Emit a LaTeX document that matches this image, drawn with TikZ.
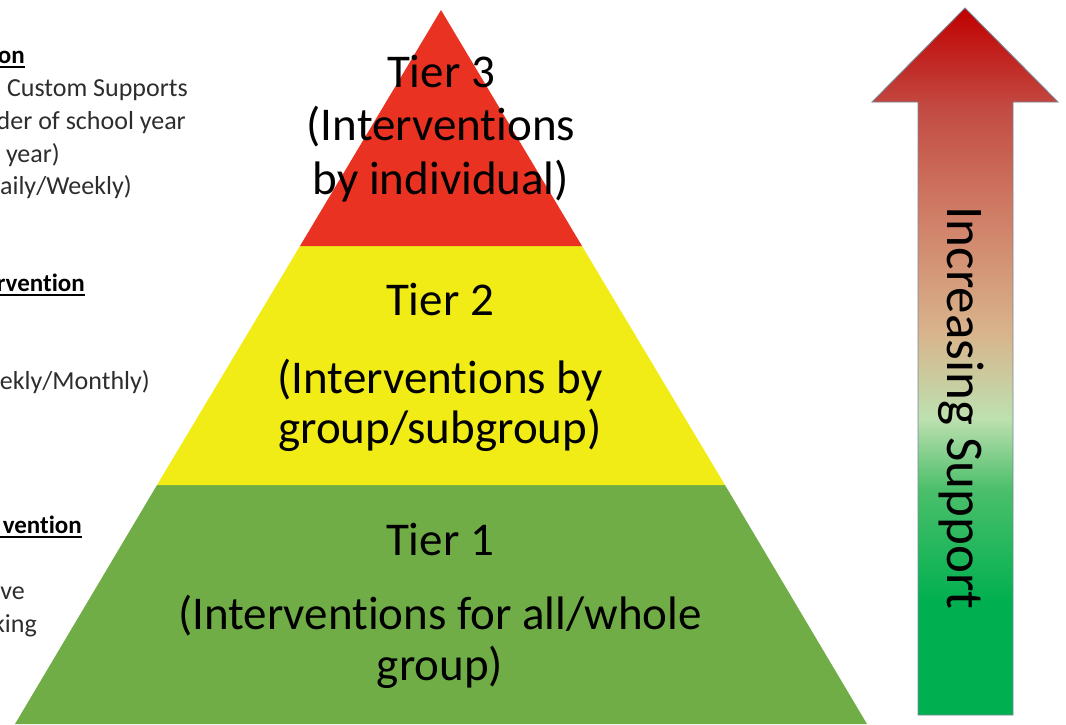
\documentclass[tikz,border=0pt]{standalone}
\usepackage{fontspec}
\setmainfont{Carlito}[Ligatures=NoCommon]
\definecolor{tred}{RGB}{234,50,35}
\definecolor{tyellow}{RGB}{241,236,22}
\definecolor{tgreen}{RGB}{112,173,71}
\definecolor{aoutline}{RGB}{120,135,150}
\definecolor{sidegray}{RGB}{45,45,45}
\definecolor{gA}{RGB}{0,176,80}
\definecolor{gB}{RGB}{76,191,107}
\definecolor{gC}{RGB}{190,224,176}
\definecolor{gD}{RGB}{216,180,140}
\definecolor{gE}{RGB}{208,128,104}
\definecolor{gF}{RGB}{194,74,66}
\definecolor{gG}{RGB}{192,0,0}
\pgfdeclareverticalshading{arrowshade}{100bp}{%
  color(0bp)=(gA); color(25bp)=(gA); color(33bp)=(gA);
  color(41bp)=(gB); color(46bp)=(gC); color(52bp)=(gD);
  color(60bp)=(gE); color(68bp)=(gF); color(75bp)=(gG); color(100bp)=(gG)}
\tikzset{
  tiertext/.style={inner sep=0pt, anchor=base, font=\fontsize{47}{50}\selectfont},
  sidetext/.style={inner sep=0pt, anchor=base east, text=sidegray, font=\fontsize{26}{30}\selectfont},
  sidehead/.style={sidetext, text=black, font=\fontsize{25}{30}\selectfont\bfseries},
  uline/.style={line width=1.6pt, black},
  arrowtext/.style={inner sep=0pt, anchor=base, rotate=-90, font=\fontsize{53}{56}\selectfont}
}
\begin{document}
\begin{tikzpicture}[x=1pt,y=-1pt]
\useasboundingbox (0,0) rectangle (1066,724);
\coordinate (leftedge) at (0,0);
\begin{scope}
\clip (0,0) rectangle (1066,724);
% left side texts (cut off at the picture edge)
\node[sidehead] (h3) at (25,63) {on};
\node[sidetext] (l31) at (188,96) {Custom Supports};
\node[sidetext] (l32) at (186,129) {der of school year};
\node[sidetext] (l33) at (60,162) {year)};
\node[sidetext] (l34) at (132,194) {aily/Weekly)};
\node[sidehead] (h2) at (85,291) {rvention};
\node[sidetext] (l21) at (150,389) {ekly/Monthly)};
\node[sidehead] (h1) at (82,533) {vention};
\node[sidetext] (l11) at (25,599) {ve};
\node[sidetext] (l12) at (37,632) {king};
\draw[uline] ([yshift=-4]h3.base east) -- ([yshift=-4]h3.base east -| leftedge);
\draw[uline] ([yshift=-4]h2.base east) -- ([yshift=-4]h2.base east -| leftedge);
\draw[uline] ([yshift=-4]h1.base east) -- ([yshift=-4]h1.base east -| leftedge);
\end{scope}
% pyramid
\fill[tgreen] (157,485) -- (725,485) -- (867,724) -- (15,724) -- cycle;
\fill[tyellow] (300,246) -- (582,246) -- (725,485) -- (157,485) -- cycle;
\fill[tred] (441,10) -- (582,246) -- (300,246) -- cycle;
% tier texts
\node[tiertext] (t3a) at (441,87) {Tier 3};
\node[tiertext] (t3b) at (441,140) {(Interventions};
\node[tiertext] (t3c) at (441,194) {by individual)};
\node[tiertext] (t2a) at (440,315) {Tier 2};
\node[tiertext] (t2b) at (440,393) {(Interventions by};
\node[tiertext] (t2c) at (440,443) {group/subgroup)};
\node[tiertext] (t1a) at (440,555) {Tier 1};
\node[tiertext] (t1b) at (440,629) {(Interventions for all/whole};
\node[tiertext] (t1c) at (440,680) {group)};
% arrow
\shade[shading=arrowshade, draw=aoutline, line width=0.9pt, line join=miter]
  (965,8) -- (1058,102) -- (1013,102) -- (1013,715) -- (918,715) -- (918,102) -- (872,102) -- cycle;
\node[arrowtext] (arr) at (947,408) {Increasing Support};
\end{tikzpicture}
\end{document}
